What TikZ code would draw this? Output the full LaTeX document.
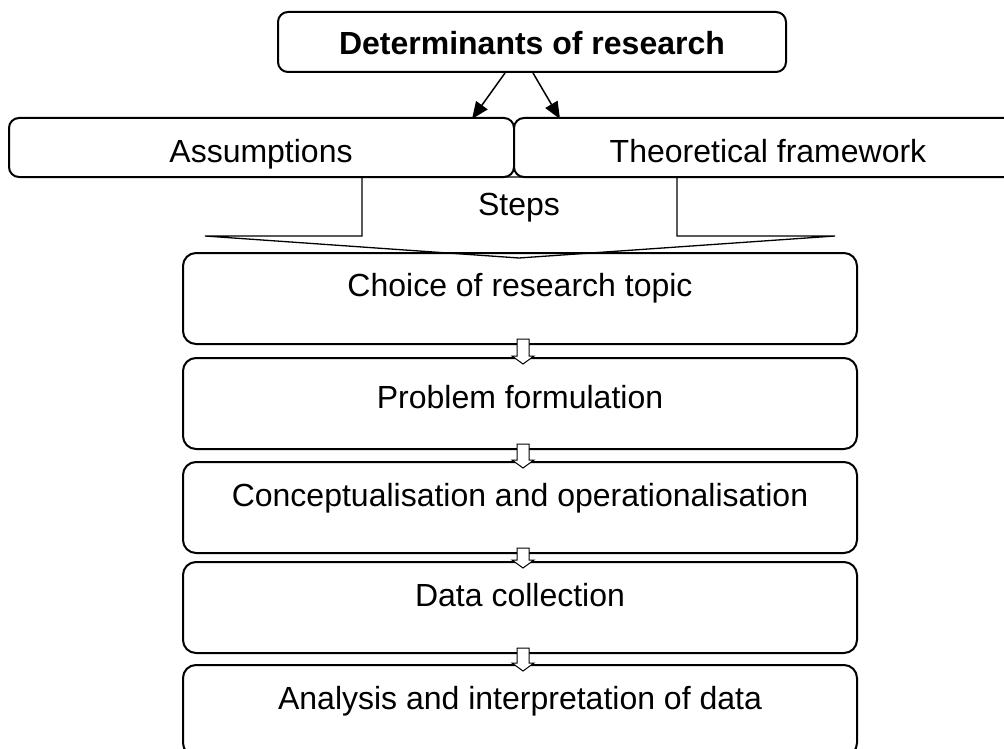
\documentclass[tikz,border=0pt]{standalone}
\usepackage{fontspec}
\setmainfont{Liberation Sans}
\usetikzlibrary{arrows.meta,calc}
\newcommand\blockarrow[2]{%
  \draw[smallarr] let \p1=(#1.south), \p2=(#2.north) in
    ({\x1-3pt},{\y1+6pt}) -- ({\x1+9pt},{\y1+6pt}) -- ({\x1+9pt},{\y2+1pt}) --
    ({\x1+14pt},{\y2+1pt}) -- ({\x1+3pt},{\y2-7pt}) -- ({\x1-8pt},{\y2+1pt}) --
    ({\x1-3pt},{\y2+1pt}) -- cycle;}
\begin{document}
\begin{tikzpicture}[x=1pt,y=-1pt,
  box/.style={draw, line width=2pt, rounded corners=10pt, fill=white, inner sep=0pt},
  stepbox/.style={box, rounded corners=13pt, minimum width=674pt, minimum height=91pt, anchor=north},
  txt/.style={font=\fontsize{32}{38}\selectfont, inner sep=0pt, anchor=base},
  toparr/.style={line width=1.5pt, -{Triangle[length=17pt,width=14pt]}},
  smallarr/.style={draw, fill=white, line width=1pt, line join=miter},
  bigarrow/.style={draw, line width=1.3pt, line join=miter}]
\useasboundingbox (0,0) rectangle (1004,749);
\clip (0,0) rectangle (1004,749);

% top box
\node[box, minimum width=508pt, minimum height=60pt] (det) at (532,42) {};
\node[txt, font=\fontsize{32}{38}\selectfont\bfseries] (dett) at (532,55) {Determinants of research};

% assumption / framework boxes
\node[box, minimum width=505pt, minimum height=59pt] (as) at (261.5,147.5) {};
\node[box, minimum width=508pt, minimum height=59pt] (tf) at (768,147.5) {};
\node[txt] (ast) at (261,163) {Assumptions};
\node[txt] (tft) at (768,163) {Theoretical framework};

% arrows from top box
\coordinate (a1) at (472,119);
\coordinate (a2) at (560,119);
\draw[toparr] ([xshift=-27pt]det.south) -- (a1);
\draw[toparr] ([xshift=1pt]det.south) -- (a2);

% step boxes
\node[stepbox] (b1) at (520,252) {};
\node[stepbox] (b2) at (520,357) {};
\node[stepbox] (b3) at (520,461) {};
\node[stepbox] (b4) at (520,561) {};
\node[stepbox] (b5) at (520,664) {};

% steps arrow
\path[bigarrow] (362,177) -- (677,177) -- (677,236) -- (835,236) -- (519,258)
  -- (205,236) -- (362,236) -- cycle;
\node[txt] (st) at (519,215) {Steps};

\node[txt] (t1) at (520,296) {Choice of research topic};
\node[txt] (t2) at (520,408) {Problem formulation};
\node[txt] (t3) at (520,506) {Conceptualisation and operationalisation};
\node[txt] (t4) at (520,606) {Data collection};
\node[txt] (t5) at (520,709) {Analysis and interpretation of data};

\blockarrow{b1}{b2}
\blockarrow{b2}{b3}
\blockarrow{b3}{b4}
\blockarrow{b4}{b5}
\end{tikzpicture}
\end{document}
